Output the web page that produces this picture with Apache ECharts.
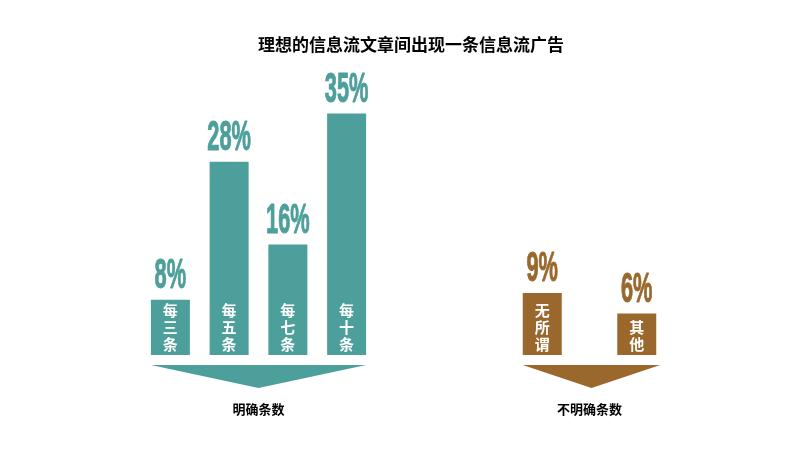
<!DOCTYPE html>
<html><head><meta charset="utf-8">
<script src="https://cdn.jsdelivr.net/npm/echarts@6/dist/echarts.min.js"></script>
<style>html,body{margin:0;padding:0;background:#fff}#c{width:800px;height:450px}</style>
</head><body><div id="c"></div>
<script>
const titleText = '理想的信息流文章间出现一条信息流广告';
const leftCats = ['每\n三\n条', '每\n五\n条', '每\n七\n条', '每\n十\n条'];
const leftValues = [8, 28, 16, 35];
const rightCats = ['无\n所\n谓', '其\n他'];
const rightValues = [9, 6];
const groupNames = ['明确条数', '不明确条数'];

const TEAL = '#4c9f9b';
const BROWN = '#9a672c';
const BAR_W = 39;
const CJK = '"Noto Sans CJK SC", sans-serif';

const chart = echarts.init(document.getElementById('c'));

function pctSeries(idx, values, color) {
  return {
    type: 'custom', xAxisIndex: idx, yAxisIndex: idx, z: 5,
    data: values.map((v, i) => [i, v]),
    renderItem: function (params, api) {
      const p = api.coord([api.value(0), api.value(1)]);
      return {
        type: 'text', x: p[0], y: p[1] - 2, scaleX: 0.52, scaleY: 1,
        style: {
          text: api.value(1) + '%', fill: color,
          font: 'bold 42px "Liberation Sans Narrow", sans-serif',
          align: 'center', verticalAlign: 'bottom',
          stroke: color, lineWidth: 1
        }
      };
    }
  };
}
function arrowSeries(idx, n, color, extra) {
  return {
    type: 'custom', xAxisIndex: idx, yAxisIndex: idx, z: 1,
    data: [[0, 0]],
    renderItem: function (params, api) {
      const a = api.coord([0, 0]);
      const b = api.coord([n - 1, 0]);
      const x0 = a[0] - BAR_W / 2, x1 = b[0] + BAR_W / 2 + extra;
      const y = a[1] + 10;
      return {
        type: 'polygon',
        shape: { points: [[x0, y], [x1, y], [(x0 + x1) / 2, y + 23]] },
        style: { fill: color }
      };
    }
  };
}
function barSeries(idx, values, color) {
  return {
    type: 'bar', xAxisIndex: idx, yAxisIndex: idx, barWidth: BAR_W, z: 2,
    data: values,
    itemStyle: { color: color },
    label: {
      show: true, position: 'insideBottom', distance: 2,
      formatter: p => p.name,
      color: '#fff', fontFamily: CJK, fontWeight: 'bold', fontSize: 15, lineHeight: 17
    }
  };
}
function xAx(idx, cats, name) {
  return {
    type: 'category', gridIndex: idx, data: cats,
    axisLine: { show: false }, axisTick: { show: false }, axisLabel: { show: false },
    name: name, nameLocation: 'middle', nameGap: 48,
    nameTextStyle: { color: '#000', fontFamily: CJK, fontWeight: 'bold', fontSize: 13 }
  };
}
function yAx(idx) {
  return { type: 'value', gridIndex: idx, min: 0, max: 40, show: false };
}

chart.setOption({
  animation: false,
  backgroundColor: '#fff',
  title: {
    text: titleText, left: 253, top: 31,
    textStyle: { color: '#000', fontFamily: CJK, fontWeight: 'bold', fontSize: 17 }
  },
  grid: [
    { left: 141, width: 235, top: 79, height: 276 },
    { left: 495, width: 189, top: 79, height: 276 }
  ],
  xAxis: [xAx(0, leftCats, groupNames[0]), xAx(1, rightCats, groupNames[1])],
  yAxis: [yAx(0), yAx(1)],
  series: [
    barSeries(0, leftValues, TEAL),
    barSeries(1, rightValues, BROWN),
    pctSeries(0, leftValues, TEAL),
    pctSeries(1, rightValues, BROWN),
    arrowSeries(0, leftCats.length, TEAL, 0),
    arrowSeries(1, rightCats.length, BROWN, 4)
  ]
});
</script>
</body></html>
